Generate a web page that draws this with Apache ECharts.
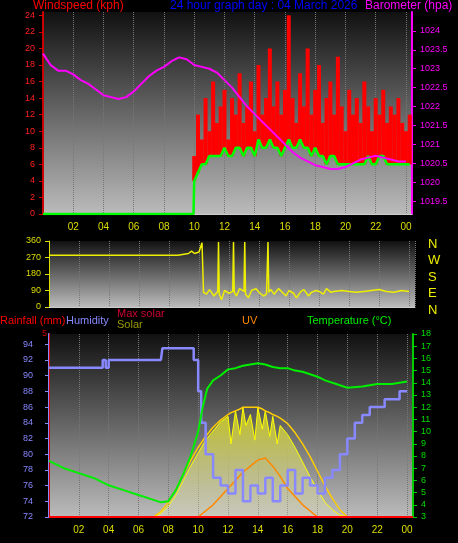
<!DOCTYPE html><html><head><meta charset="utf-8">
<script src="https://cdn.jsdelivr.net/npm/echarts@6/dist/echarts.min.js"></script>
<style>html,body{margin:0;background:#000}#c{width:458px;height:543px}</style></head><body><div id="c"></div>
<script>
// wind (kph) from 10:00 every 15 min
const windStart = 10, windStep = 0.25;
const windGust = [7,12,9,14,10,16,11,13,15,9,14,12,17,11,13,16,10,18,12,14,20,13,16,12,15,24,14,11,17,13,20,12,15,18,11,14,16,12,19,13,10,15,12,14,11,16,13,10,14,12,15,11,13,12,14,11,10,12];
const windAvg  = [4,5,6,6,7,7,7,7,8,7,7,8,8,7,8,8,7,9,8,8,9,8,8,7,8,9,8,8,9,8,8,7,8,7,7,6,7,7,6,6,6,6,6,6,6,6,7,6,6,7,7,6,6,6,6,6,6,6];
const baroT = [0,0.5,1,1.5,2,2.5,3,3.5,4,4.5,5,5.5,6,6.5,7,7.5,8,8.5,9,9.5,10,10.5,11,11.5,12,12.5,13,13.5,14,14.5,15,15.5,16,16.5,17,17.5,18,18.5,19,19.5,20,20.5,21,21.5,22,22.5,23,23.5,24];
const baroV = [1023.4,1023.1,1022.95,1022.95,1022.85,1022.7,1022.6,1022.45,1022.3,1022.25,1022.2,1022.25,1022.4,1022.6,1022.8,1022.95,1023.05,1023.2,1023.3,1023.25,1023.1,1023.05,1023,1022.9,1022.7,1022.5,1022.25,1022.0,1021.8,1021.6,1021.4,1021.2,1021.0,1020.8,1020.65,1020.55,1020.45,1020.4,1020.35,1020.35,1020.4,1020.5,1020.6,1020.65,1020.7,1020.65,1020.6,1020.55,1020.55];
const baroTicks = [1019.5,1020,1020.5,1021,1021.5,1022,1022.5,1023,1023.5,1024];
const dirT = [0,8.6,8.7,9.3,9.5,9.7,10,10.2,10.3,10.5,10.7,11,11.25,11.3,11.35,11.5,11.7,12,12.25,12.3,12.35,12.5,12.7,13,13.05,13.1,13.3,13.5,13.8,14,14.3,14.5,14.6,14.65,14.8,15,15.3,15.5,15.8,16,16.3,16.5,16.8,17,17.3,17.5,17.8,18,18.3,18.5,18.8,19,19.5,20,20.5,21,21.5,22,22.5,23,23.5,24];
const dirV = [282,282,292,292,305,292,300,350,80,70,95,60,85,355,70,40,90,75,85,355,80,60,100,85,355,70,50,90,100,80,60,70,355,80,95,70,100,85,60,90,75,50,85,95,60,80,90,85,70,100,80,85,90,85,80,85,90,95,85,80,90,85];
const tempT = [0,1,2,3,4,5,6,7,7.5,8,8.5,9,9.5,10,10.3,10.6,11,11.5,12,12.5,13,13.5,14,14.5,15,15.5,16,16.5,17,17.5,18,18.5,19,19.5,20,21,22,23,24];
const tempV = [7.6,7.0,6.6,6.2,5.6,5.2,4.8,4.4,4.2,4.3,5.2,6.5,8.0,10.0,12.0,13.5,14.2,14.6,15.1,15.2,15.4,15.5,15.6,15.5,15.3,15.2,15.2,15.0,14.9,14.7,14.5,14.2,14.0,13.8,13.6,13.7,13.9,13.9,14.1];
const humT = [0,3.4,3.6,3.8,4,7.5,7.6,9.4,9.7,10,10.2,10.5,11,11.5,12,12.5,13,13.5,14,14.5,15,15.5,16,16.5,17,17.5,18,18.5,19,19.5,20,20.5,21,21.5,22,22.5,23,23.5,24];
const humV = [91,91,92,91,92,92,93.5,93.5,92,88,84,80,77,76,75,78,74,76,75,77,74,76,78,75,77,76,75,77,78,80,82,84,85,86,86,87,87,88,88];
const solT = [7,7.5,8,8.5,9,9.5,10,10.5,11,11.5,12,12.2,12.5,12.8,13,13.2,13.5,13.8,14,14.3,14.5,14.8,15,15.3,15.5,16,16.5,17,17.5,18,18.5,19,19.5,20];
const solV = [0,2,6,12,20,28,35,42,47,52,55,40,58,45,60,50,56,42,60,48,58,44,55,40,50,45,38,30,22,15,8,4,1,0];
const maxSolV = [0,3,8,15,23,31,38,44,49,53,56,57,58,59,60,60,60,60,60,59,58,57,56,55,54,51,46,40,33,25,17,10,4,0];
const uvT = [10,11,12,12.5,13,13.5,14,14.5,15,15.5,16,17,18];
const uvV = [0,0.6,1.4,1.8,2.2,2.5,2.8,2.9,2.5,2.0,1.4,0.6,0];
const hourLabels = ['02','04','06','08','10','12','14','16','18','20','22','00'];

const pair = (t, v) => t.map((x, i) => [x, v[i]]);
const windX = windGust.map((_, i) => windStart + i * windStep);
const gustData = windX.map((x, i) => [x, windAvg[i], windGust[i]]);
const avgLine = [[0,0],[9.95,0]].concat(windX.map((x, i) => [x, windAvg[i]]));

const grad = (a, b) => ({type:'linear',x:0,y:0,x2:0,y2:1,colorStops:[{offset:0,color:a},{offset:1,color:b}]});
const F = 'Liberation Sans';
const hourFmt = v => v === 0 ? '' : (hourLabels[v/2-1] || '');
const xa = (gi, labels) => ({type:'value',gridIndex:gi,min:0,max:24.4,interval:2,
  axisLine:{lineStyle:{color:'#ccc'}},axisTick:{show:false},
  splitLine:{show:true,lineStyle:{color:'#777',type:'dotted'}},
  axisLabel:{show:labels,color:'#dddd00',fontFamily:F,fontSize:10,formatter:hourFmt}});
const ya = (gi, o) => Object.assign({type:'value',gridIndex:gi,axisLine:{show:true},axisTick:{show:true,length:4},
  splitLine:{show:false}}, o);
const lbl = (c, extra) => Object.assign({color:c,fontFamily:F,fontSize:9}, extra||{});

const chart = echarts.init(document.getElementById('c'));
chart.setOption({
  backgroundColor:'#000', animation:false,
  grid:[
    {left:43,right:46,top:12,height:202,show:true,backgroundColor:grad('#111','#bbb'),borderWidth:0},
    {left:49,right:43,top:241,height:66,show:true,backgroundColor:grad('#111','#bbb'),borderWidth:0},
    {left:49,right:45,top:334,height:183,show:true,backgroundColor:grad('#111','#bbb'),borderWidth:0}
  ],
  xAxis:[xa(0,true),xa(1,false),xa(2,true)],
  yAxis:[
    ya(0,{min:0,max:24.4,interval:2,axisLine:{lineStyle:{color:'#cc0000',width:2}},axisLabel:lbl('#ff2020',{showMaxLabel:false})}),
    ya(0,{position:'right',min:1019.16,max:1024.5,axisLine:{lineStyle:{color:'#ff00ff',width:2}},
      axisTick:{show:true,length:4,customValues:baroTicks},
      axisLabel:lbl('#ff00ff',{customValues:baroTicks,formatter:v=>String(Math.round(v*10)/10)})}),
    ya(1,{min:0,max:360,interval:90,axisLine:{lineStyle:{color:'#dddd00'}},axisLabel:lbl('#dddd00')}),
    ya(2,{position:'left',min:72,max:95.3,interval:2,offset:8,axisLine:{lineStyle:{color:'#8888ff',width:2}},axisLabel:lbl('#8888ff',{showMaxLabel:false})}),
    ya(2,{position:'left',offset:0,min:0,max:5,interval:5,axisLine:{lineStyle:{color:'#cc0000'}},axisTick:{show:false},axisLabel:lbl('#cc0000',{margin:2,showMinLabel:false})}),
    ya(2,{position:'right',min:3,max:18,interval:1,axisLine:{lineStyle:{color:'#00cc00',width:2}},axisLabel:lbl('#00dd00')}),
    ya(2,{min:0,max:100,show:false}),
    ya(2,{min:0,max:9,show:false})
  ],
  series:[
    {type:'custom',xAxisIndex:0,yAxisIndex:0,data:gustData,renderItem:(p,api)=>{
      const a = api.coord([api.value(0), api.value(1)]), b = api.coord([api.value(0), api.value(2)]);
      return {type:'rect',shape:{x:a[0]-2,y:b[1],width:4,height:a[1]-b[1]},style:{fill:'#ff0000'}};
    }},
    {type:'line',xAxisIndex:0,yAxisIndex:0,data:avgLine,showSymbol:false,lineStyle:{color:'#00ff00',width:2.5}},
    {type:'line',xAxisIndex:0,yAxisIndex:1,data:pair(baroT,baroV),showSymbol:false,lineStyle:{color:'#ff00ff',width:2}},
    {type:'line',xAxisIndex:1,yAxisIndex:2,data:pair(dirT,dirV),showSymbol:false,lineStyle:{color:'#eeee00',width:1.5}},
    {type:'line',xAxisIndex:2,yAxisIndex:6,data:pair(solT,solV),showSymbol:false,lineStyle:{color:'#ffff00',width:1},areaStyle:{color:grad('rgba(255,255,0,0.95)','rgba(255,255,200,0.3)')}},
    {type:'line',xAxisIndex:2,yAxisIndex:6,data:pair(solT,maxSolV),showSymbol:false,lineStyle:{color:'#ffcc00',width:1.5}},
    {type:'line',xAxisIndex:2,yAxisIndex:7,data:pair(uvT,uvV),showSymbol:false,lineStyle:{color:'#ff8800',width:1.5}},
    {type:'line',xAxisIndex:2,yAxisIndex:3,data:pair(humT,humV),showSymbol:false,step:'end',lineStyle:{color:'#8888ff',width:2.5}},
    {type:'line',xAxisIndex:2,yAxisIndex:5,data:pair(tempT,tempV),showSymbol:false,lineStyle:{color:'#00ee00',width:2}},
    {type:'line',xAxisIndex:2,yAxisIndex:4,data:[[0,0],[24.4,0]],showSymbol:false,lineStyle:{color:'#ff0000',width:2}}
  ],
  graphic:[
    {type:'text',left:33,top:0,style:{text:'Windspeed (kph)',fill:'#ff0000',font:'12px '+F}},
    {type:'text',left:170,top:0,style:{text:'24 hour graph day : 04 March 2026',fill:'#0000ff',font:'12px '+F}},
    {type:'text',left:365,top:0,style:{text:'Barometer (hpa)',fill:'#ff00ff',font:'12px '+F}},
    {type:'text',left:428,top:236,style:{text:'N\nW\nS\nE\nN',fill:'#eeee00',font:'13px '+F,lineHeight:16.5}},
    {type:'text',left:0,top:315,style:{text:'Rainfall (mm)',fill:'#ff0000',font:'11px '+F}},
    {type:'text',left:66,top:315,style:{text:'Humidity',fill:'#8888ff',font:'11px '+F}},
    {type:'text',left:117,top:308,style:{text:'Max solar',fill:'#cc0033',font:'11px '+F}},
    {type:'text',left:117,top:319,style:{text:'Solar',fill:'#999900',font:'11px '+F}},
    {type:'text',left:242,top:315,style:{text:'UV',fill:'#ff8800',font:'11px '+F}},
    {type:'text',left:307,top:315,style:{text:'Temperature (°C)',fill:'#00ee00',font:'11px '+F}}
  ]
});
</script></body></html>
